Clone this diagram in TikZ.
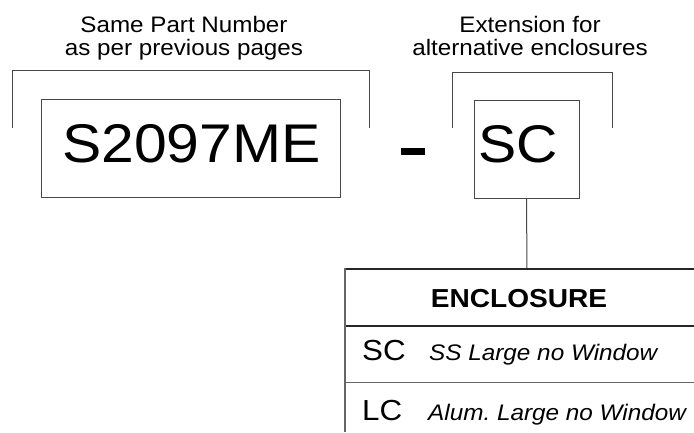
\documentclass[tikz,border=0pt]{standalone}
\usepackage{fontspec}
\setmainfont{Liberation Sans}[FakeStretch=1.08]
\frenchspacing
\begin{document}
\begin{tikzpicture}[x=1pt,y=-1pt,
  thin line/.style={draw=black!72,line width=1pt},
  thick line/.style={draw=black!85,line width=2pt},
  caption/.style={anchor=base,inner sep=0pt,font=\fontsize{22.4pt}{26pt}\selectfont},
  code/.style={anchor=base,inner sep=0pt,font=\fontsize{54.5pt}{60pt}\selectfont},
  rowcode/.style={anchor=base west,inner sep=0pt,font=\fontsize{29pt}{32pt}\selectfont},
  rowtext/.style={anchor=base west,inner sep=0pt,font=\fontsize{22.5pt}{26pt}\selectfont\itshape},
  box/.style={thin line,inner sep=0pt}]
\useasboundingbox (0,0) rectangle (694,432);
% captions
\node[caption] (c1a) at (184,32) {Same Part Number};
\node[caption] (c1b) at (184,55) {as per previous pages};
\node[caption] (c2a) at (530,32) {Extension for};
\node[caption] (c2b) at (530,55) {alternative enclosures};
% brackets
\coordinate (b1l) at (12,128);
\coordinate (b1r) at (369,128);
\draw[thin line] (b1l) -- (12,70) -- (369,70) -- (b1r);
\coordinate (b2l) at (452,128);
\coordinate (b2r) at (612,128);
\draw[thin line] (b2l) -- (452,72) -- (612,72) -- (b2r);
% boxes
\node[box,minimum width=299pt,minimum height=98pt] (pn) at (190.5,148) {};
\node[code] (pnt) at (191.5,162) {S2097ME};
\node[fill=black,inner sep=0pt,minimum width=24pt,minimum height=7pt] (dash) at (413,151.5) {};
\node[box,minimum width=105pt,minimum height=98pt] (ext) at (526.5,149) {};
\node[code,font=\fontsize{53pt}{60pt}\selectfont] (extt) at (518.5,162) {SC};
% table
\coordinate (ttop) at (527,269);
\draw[thin line] (ext.south) -- (ttop);
\draw[thick line] (345,269) -- (694,269);
\draw[thick line] (345,326) -- (694,326);
\draw[thin line,draw=black!60] (345,382) -- (694,382);
\draw[thin line,draw=black!60,line width=1.5pt] (345,268) -- (345,432);
\node[anchor=base,inner sep=0pt,font=\fontsize{26pt}{30pt}\selectfont\bfseries] (hdr) at (519,307) {ENCLOSURE};
\node[rowcode] (r1c) at (362,360) {SC};
\node[rowtext] (r1t) at (429,360) {SS Large no Window};
\node[rowcode] (r2c) at (362,420) {LC};
\node[rowtext] (r2t) at (428,420) {Alum. Large no Window};
\end{tikzpicture}
\end{document}
